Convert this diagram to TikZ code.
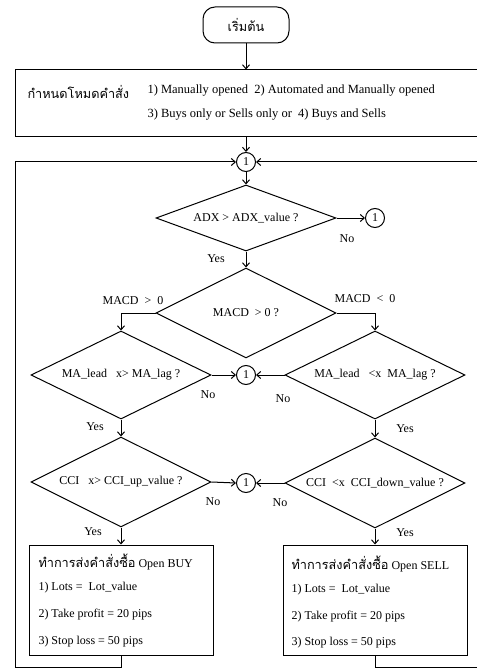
\documentclass[tikz,border=0pt]{standalone}
\usepackage{fontspec}
\setmainfont{Liberation Serif}
\newfontfamily\thai[Script=Thai,Scale=1.06]{Loma}
\usetikzlibrary{shapes.geometric,arrows.meta}
\begin{document}
\begin{tikzpicture}[x=1pt,y=-1pt,line width=1pt,
  font=\fontsize{12}{14}\selectfont,
  arr/.style={-{Straight Barb[length=4pt,width=7pt,line width=1pt]}},
  dia/.style={draw,diamond,inner sep=0pt,minimum width=180pt},
  conn/.style={draw,circle,inner sep=0pt,minimum size=19pt},
  box/.style={draw,rectangle,inner sep=0pt},
  lbl/.style={inner sep=0pt},
  txt/.style={inner sep=0pt,anchor=west},
  wide/.style={txt,font=\fontsize{12.5}{14}\selectfont}]
\useasboundingbox (0,0) rectangle (476,671);
% nodes
\node[box,rounded corners=12pt,minimum width=86pt,minimum height=36pt] (start) at (246,25) {\thai เริ่มต้น};
\node[box,minimum width=463pt,minimum height=67pt] (mode) at (246.5,103.5) {};
\node[txt] (modeT) at (27,92) {\thai กำหนดโหมดคำสั่ง};
\node[wide] (mode1) at (147,91) {1) Manually opened~ 2) Automated and Manually opened};
\node[wide] (mode2) at (147,115) {3) Buys only or Sells only or~ 4) Buys and Sells};
\node[conn] (c1) at (246,162) {1};
\node[dia,shape aspect=2.73,minimum height=66pt] (adx) at (246,218) {ADX > ADX\_value ?};
\node[conn] (cA) at (375,218) {1};
\node[dia,shape aspect=2,minimum height=90pt] (macd) at (246,313) {MACD~ > 0 ?};
\node[dia,shape aspect=2.05,minimum height=88pt] (maL) at (121,375) {MA\_lead~~ x> MA\_lag ?};
\node[dia,shape aspect=2.05,minimum height=88pt] (maR) at (375,375) {MA\_lead~~ <x~ MA\_lag ?};
\node[conn] (c2) at (246,375) {1};
\node[dia,shape aspect=2,minimum height=90pt] (cciL) at (121,482) {CCI~~ x> CCI\_up\_value ?};
\node[dia,shape aspect=2,minimum height=90pt] (cciR) at (375,483) {\raisebox{-5pt}{CCI~ <x~ CCI\_down\_value ?}};
\node[conn] (c3) at (246,483) {1};
\node[box,minimum width=184pt,minimum height=110pt] (buy) at (121,600) {};
\node[box,minimum width=184pt,minimum height=110pt] (sell) at (375,600) {};
\node[txt] (buy0) at (38,562) {{\thai ทำการส่งคำสั่งซื้อ} Open BUY};
\node[txt] (buy1) at (38,588) {1) Lots =~ Lot\_value};
\node[txt] (buy2) at (38,615) {2) Take profit = 20 pips};
\node[txt] (buy3) at (38,642) {3) Stop loss = 50 pips};
\node[txt] (sell0) at (291,564) {{\thai ทำการส่งคำสั่งซื้อ} Open SELL};
\node[txt] (sell1) at (291,590) {1) Lots =~ Lot\_value};
\node[txt] (sell2) at (291,617) {2) Take profit = 20 pips};
\node[txt] (sell3) at (291,643) {3) Stop loss = 50 pips};
% labels
\node[lbl] (noA) at (347,239) {No};
\node[lbl] (yesA) at (216,259) {Yes};
\node[lbl] (mgt) at (133,301) {MACD~ >~ 0};
\node[lbl] (mlt) at (365,299) {MACD~ <~ 0};
\node[lbl] (noL1) at (208,395) {No};
\node[lbl] (noR1) at (283,399) {No};
\node[lbl] (yesL1) at (95,427) {Yes};
\node[lbl] (yesR1) at (405,429) {Yes};
\node[lbl] (noL2) at (213,502) {No};
\node[lbl] (noR2) at (280,503) {No};
\node[lbl] (yesL2) at (93,532) {Yes};
\node[lbl] (yesR2) at (405,533) {Yes};
% frame coordinates
\coordinate (bot) at (0,667);
\coordinate (lft) at (15,0);
\coordinate (rgt) at (478,0);
% connectors
\draw[arr] (start.south) -- (start.south |- mode.north);
\draw[arr] (c1 |- mode.south) -- (c1.north);
\draw[arr] (c1.south) -- (adx.north);
\draw[arr] (adx.east) -- (cA.west);
\draw[arr] (adx.south) -- (macd.north);
\draw[arr] (macd.west) -| (maL.north);
\draw[arr] (macd.east) -| (maR.north);
\draw[arr] (maL.east) -- (c2.west);
\draw[arr] (maR.west) -- (c2.east);
\draw[arr] (maL.south) -- (cciL.north);
\draw[arr] (maR.south) -- (cciR.north);
\draw[arr] (cciL.east) -- (c3.west);
\draw[arr] (cciR.west) -- (c3.east);
\draw[arr] (cciL.south) -- (buy.north);
\draw[arr] (cciR.south) -- (sell.north);
\draw[arr] (buy.south) -- (buy.south |- bot) -| (lft |- c1) -- (c1.west);
\draw[arr] (sell.south) -- (sell.south |- bot) -| (rgt |- c1) -- (c1.east);
\end{tikzpicture}
\end{document}
